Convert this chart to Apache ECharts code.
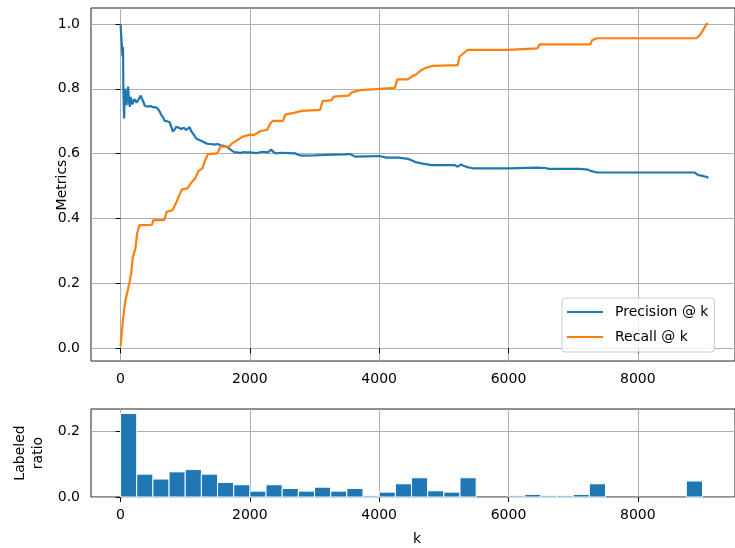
<!DOCTYPE html>
<html>
<head>
<meta charset="utf-8">
<script src="https://cdn.jsdelivr.net/npm/echarts@6/dist/echarts.min.js"></script>
<style>
  html, body { margin: 0; padding: 0; background: #fff; }
  #chart { width: 735px; height: 548px; }
</style>
</head>
<body>
<div id="chart"></div>
<script>
// Precision @ k, as [k, value]
const precisionAtK = [
  [0,1.0],[25,1.0],[30,0.90],[38,0.93],[45,0.78],[56,0.709],[66,0.80],[77,0.791],[92,0.750],
  [105,0.790],[118,0.807],[130,0.760],[144,0.745],[157,0.775],[169,0.776],[182,0.752],[195,0.750],
  [212,0.768],[231,0.771],[250,0.758],[272,0.765],[292,0.770],[313,0.779],[330,0.770],[349,0.762],
  [374,0.748],[420,0.745],[460,0.747],[503,0.743],[540,0.744],[579,0.738],[605,0.730],[631,0.719],
  [660,0.712],[682,0.701],[720,0.700],[759,0.697],[785,0.683],[810,0.668],[840,0.676],[862,0.683],
  [900,0.680],[938,0.676],[980,0.680],[1015,0.673],[1045,0.678],[1067,0.682],[1090,0.670],[1118,0.663],
  [1145,0.655],[1169,0.647],[1210,0.643],[1246,0.640],[1285,0.636],[1323,0.632],[1360,0.630],[1400,0.630],
  [1450,0.628],[1503,0.630],[1540,0.626],[1579,0.625],[1620,0.622],[1656,0.620],[1690,0.614],[1733,0.608],
  [1770,0.604],[1810,0.604],[1860,0.602],[1900,0.605],[1950,0.604],[2000,0.604],[2100,0.602],[2200,0.606],
  [2280,0.604],[2330,0.613],[2360,0.606],[2400,0.601],[2500,0.603],[2600,0.602],[2700,0.601],[2760,0.596],
  [2805,0.594],[3000,0.595],[3150,0.596],[3300,0.597],[3450,0.598],[3540,0.599],[3580,0.596],[3626,0.591],
  [3800,0.592],[4000,0.593],[4113,0.588],[4300,0.588],[4446,0.584],[4500,0.580],[4549,0.575],[4651,0.570],
  [4805,0.565],[5164,0.565],[5215,0.560],[5267,0.567],[5300,0.563],[5380,0.558],[5446,0.555],[6000,0.555],
  [6441,0.557],[6580,0.556],[6620,0.553],[6954,0.553],[7100,0.553],[7230,0.551],[7267,0.547],[7369,0.542],
  [8882,0.542],[8933,0.534],[8970,0.533],[9026,0.530],[9060,0.529],[9090,0.525]
];

// Recall @ k, as [k, value]
const recallAtK = [
  [0,0.005],[36,0.087],[77,0.149],[113,0.180],[140,0.205],[164,0.231],[190,0.282],[231,0.308],
  [256,0.354],[292,0.380],[318,0.381],[487,0.381],[508,0.395],[677,0.395],[713,0.421],[805,0.426],
  [856,0.447],[897,0.467],[949,0.490],[1036,0.493],[1087,0.509],[1154,0.524],[1205,0.547],[1267,0.555],
  [1308,0.580],[1354,0.599],[1497,0.601],[1549,0.622],[1677,0.622],[1728,0.632],[1805,0.642],[1882,0.652],
  [1985,0.658],[2062,0.658],[2112,0.663],[2164,0.670],[2266,0.673],[2318,0.694],[2359,0.701],[2513,0.701],
  [2549,0.721],[2677,0.726],[2805,0.732],[3087,0.735],[3123,0.762],[3267,0.765],[3292,0.776],[3523,0.779],
  [3574,0.789],[3703,0.796],[3958,0.799],[4241,0.803],[4282,0.829],[4446,0.829],[4497,0.837],[4574,0.845],
  [4651,0.858],[4728,0.865],[4831,0.871],[5215,0.873],[5241,0.899],[5318,0.912],[5369,0.920],[5985,0.920],
  [6010,0.925],[6446,0.925],[6482,0.937],[7267,0.937],[7292,0.950],[7369,0.956],[8908,0.956],[8959,0.966],
  [9010,0.981],[9062,1.0],[9090,1.0]
];

// Labeled ratio per bin of k
const binWidth = 250;
const binStart = [
  0,250,500,750,1000,1250,1500,1750,2000,2250,2500,2750,3000,3250,3500,3750,4000,4250,
  4500,4750,5000,5250,5500,5750,6000,6250,6500,6750,7000,7250,7500,7750,8000,8250,8500,8750
];
const labeledRatio = [
  0.256,0.070,0.055,0.077,0.084,0.070,0.0445,0.0375,0.018,0.0375,0.026,0.018,0.030,0.018,0.026,0.004,0.015,0.0405,
  0.059,0.019,0.015,0.059,0,0,0.004,0.008,0.004,0.004,0.008,0.0405,0,0,0,0,0,0.049
];

// Tick positions
const kTicks = [0, 2000, 4000, 6000, 8000];
const metricTicks = [0.0, 0.2, 0.4, 0.6, 0.8, 1.0];
const ratioTicks = [0.0, 0.2];

const FONT = 'DejaVu Sans';
const FS = 14;
const BLUE = '#1f77b4';
const ORANGE = '#ff7f0e';
const GRIDC = '#b0b0b0';

const bars = binStart.map((s, i) => [s, s + binWidth, labeledRatio[i]]);

const chart = echarts.init(document.getElementById('chart'), null, { renderer: 'canvas' });

function xAxisFor(gridIndex) {
  return {
    type: 'value', gridIndex: gridIndex, min: -457, max: 9503,
    axisLine: { show: false },
    axisTick: { show: true, inside: false, length: 5, customValues: kTicks,
                lineStyle: { color: '#000', width: 1 } },
    axisLabel: { show: true, customValues: kTicks, margin: 11, color: '#000',
                 fontFamily: FONT, fontSize: FS, formatter: v => String(v) },
    splitLine: { show: true, lineStyle: { color: GRIDC, width: 1 } }
  };
}

function yAxisFor(gridIndex, min, max, ticks) {
  return {
    type: 'value', gridIndex: gridIndex, min: min, max: max,
    axisLine: { show: false },
    axisTick: { show: true, inside: false, length: 5, customValues: ticks,
                lineStyle: { color: '#000', width: 1 } },
    axisLabel: { show: true, customValues: ticks, margin: 11, color: '#000',
                 fontFamily: FONT, fontSize: FS,
                 formatter: v => Number(v).toFixed(1) },
    splitLine: { show: true, lineStyle: { color: GRIDC, width: 1 } }
  };
}

// Axis titles
function title(text, x, y, rotate) {
  return {
    type: 'text', x: x, y: y, rotation: rotate ? Math.PI / 2 : 0,
    style: { text: text, fill: '#000', font: FS + 'px "' + FONT + '"',
             align: 'center', verticalAlign: 'middle', lineHeight: 18 },
    z: 10
  };
}

chart.setOption({
  animation: false,
  backgroundColor: '#fff',
  textStyle: { fontFamily: FONT },
  grid: [
    { left: 91, top: 8, right: -5, height: 353, show: true, borderColor: '#222', borderWidth: 1,
      backgroundColor: 'transparent' },
    { left: 91, top: 409, right: -5, height: 88, show: true, borderColor: '#222', borderWidth: 1,
      backgroundColor: 'transparent' }
  ],
  xAxis: [xAxisFor(0), xAxisFor(1)],
  yAxis: [
    yAxisFor(0, -0.0392, 1.0493, metricTicks),
    yAxisFor(1, 0, 0.2695, ratioTicks)
  ],
  graphic: [
    title('Metrics', 62, 185, true),
    title('Labeled\nratio', 29, 453, true),
    title('k', 417, 539, false)
  ],
  legend: {
    orient: 'vertical', left: 562, top: 298,
    padding: [7, 6, 8, 5],
    icon: 'rect',
    itemWidth: 36, itemHeight: 2, itemGap: 11,
    backgroundColor: 'rgba(255,255,255,0.8)',
    borderColor: '#cccccc', borderWidth: 1, borderRadius: 3,
    textStyle: { color: '#000', fontFamily: FONT, fontSize: FS, lineHeight: 14, padding: [0, 0, 0, 7] },
    data: ['Precision @ k', 'Recall @ k']
  },
  series: [
    {
      name: 'Precision @ k', type: 'line', xAxisIndex: 0, yAxisIndex: 0,
      data: precisionAtK, symbol: 'none', showSymbol: false,
      lineStyle: { color: BLUE, width: 2.2 }, itemStyle: { color: BLUE }, z: 3
    },
    {
      name: 'Recall @ k', type: 'line', xAxisIndex: 0, yAxisIndex: 0,
      data: recallAtK, symbol: 'none', showSymbol: false,
      lineStyle: { color: ORANGE, width: 2.2 }, itemStyle: { color: ORANGE }, z: 3
    },
    {
      name: 'Labeled ratio', type: 'custom', xAxisIndex: 1, yAxisIndex: 1,
      data: bars,
      encode: { x: [0, 1], y: 2 },
      renderItem: function (params, api) {
        const v = api.value(2);
        if (!(v > 0)) return null;
        const p0 = api.coord([api.value(0), v]);
        const p1 = api.coord([api.value(1), 0]);
        return {
          type: 'rect',
          shape: { x: p0[0], y: p0[1], width: p1[0] - p0[0], height: p1[1] - p0[1] },
          style: { fill: BLUE, stroke: '#ffffff', lineWidth: 1 }
        };
      },
      z: 3
    }
  ]
});
</script>
</body>
</html>
